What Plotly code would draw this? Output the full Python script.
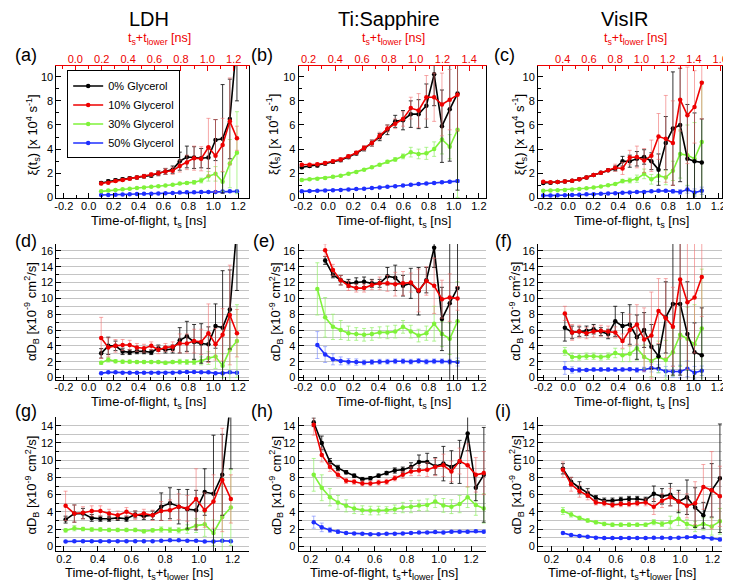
import plotly.graph_objects as go

W, H = 731, 583
FONT = "Liberation Sans, Arial, sans-serif"

SERIES = ["0% Glycerol", "10% Glycerol", "30% Glycerol", "50% Glycerol"]
LINE_COLORS = ["#000000", "#ee0000", "#7ff23a", "#1f2fff"]
ERR_COLORS = ["rgba(20,20,20,0.85)", "rgba(240,110,110,0.6)",
              "rgba(150,240,110,0.75)", "rgba(110,130,255,0.6)"]

# ---------------- column 1 : LDH ----------------
x_ad = [0.10, 0.157, 0.215, 0.272, 0.329, 0.387, 0.444, 0.502, 0.559, 0.616,
        0.674, 0.731, 0.788, 0.846, 0.903, 0.961, 1.018, 1.075, 1.133, 1.19]
a_k = [1.2, 1.33, 1.42, 1.5, 1.58, 1.65, 1.75, 1.82, 2.0, 2.15, 2.3, 3.0, 3.35, 3.3, 3.25, 3.3, 4.75, 4.85, 6.5, 13.0]
a_k_e = [0.12, 0.12, 0.12, 0.12, 0.12, 0.12, 0.15, 0.15, 0.2, 0.25, 0.3, 0.75, 0.9, 0.9, 0.8, 0.9, 1.7, 4.5, 3.3, 5.0]
a_r = [1.15, 1.22, 1.35, 1.45, 1.55, 1.65, 1.75, 1.9, 2.0, 2.15, 2.2, 2.6, 2.9, 3.25, 3.2, 4.15, 3.45, 4.35, 6.3, 4.9]
a_r_e = [0.1, 0.1, 0.1, 0.1, 0.12, 0.12, 0.15, 0.15, 0.2, 0.25, 0.3, 0.5, 0.6, 1.0, 1.0, 2.4, 3.0, 2.2, 3.6, 1.0]
a_g = [0.5, 0.57, 0.62, 0.67, 0.72, 0.78, 0.82, 0.88, 0.92, 0.98, 1.05, 1.15, 1.2, 1.25, 1.4, 1.75, 1.95, 1.3, 2.8, 3.7]
a_g_e = [0.05, 0.05, 0.05, 0.05, 0.05, 0.05, 0.05, 0.05, 0.05, 0.05, 0.05, 0.08, 0.1, 0.15, 0.2, 0.4, 0.6, 0.8, 2.0, 3.4]
a_b = [0.2, 0.2, 0.22, 0.24, 0.26, 0.28, 0.3, 0.31, 0.33, 0.35, 0.37, 0.4, 0.42, 0.43, 0.45, 0.45, 0.45, 0.48, 0.5, 0.5]
a_b_e = [0.03, 0.03, 0.03, 0.03, 0.03, 0.03, 0.03, 0.03, 0.03, 0.03, 0.03, 0.03, 0.03, 0.03, 0.04, 0.04, 0.05, 0.05, 0.05, 0.05]

d_k = [3.05, 4.0, 4.0, 3.3, 3.2, 3.3, 3.3, 3.2, 3.7, 3.5, 3.6, 4.7, 5.2, 4.5, 4.3, 4.2, 6.5, 6.3, 8.6, 19.0]
d_k_e = [0.6, 1.1, 0.6, 0.4, 0.3, 0.3, 0.3, 0.3, 0.4, 0.4, 0.5, 1.6, 1.9, 2.2, 2.5, 2.2, 2.8, 7.2, 5.0, 8.0]
d_r = [5.0, 3.8, 4.0, 4.1, 4.1, 3.8, 3.7, 4.0, 3.5, 3.8, 3.9, 4.3, 4.3, 4.6, 4.5, 5.6, 4.2, 5.4, 7.9, 5.6]
d_r_e = [2.6, 1.2, 0.8, 0.7, 0.6, 0.5, 0.5, 0.5, 0.5, 0.5, 0.6, 1.2, 1.2, 1.5, 1.6, 3.7, 2.0, 3.3, 6.3, 3.0]
d_g = [1.85, 2.25, 2.05, 2.0, 2.0, 1.95, 1.95, 1.95, 1.95, 1.85, 1.95, 2.0, 1.95, 1.95, 2.1, 2.45, 2.65, 1.5, 3.5, 4.6]
d_g_e = [0.2, 0.3, 0.2, 0.2, 0.2, 0.2, 0.2, 0.2, 0.2, 0.2, 0.2, 0.3, 0.3, 0.3, 0.5, 0.8, 1.5, 1.5, 5.0, 4.6]
d_b = [0.55, 0.65, 0.65, 0.6, 0.6, 0.6, 0.6, 0.6, 0.6, 0.6, 0.6, 0.65, 0.7, 0.7, 0.65, 0.65, 0.55, 0.55, 0.65, 0.6]
d_b_e = [0.1, 0.1, 0.1, 0.1, 0.1, 0.1, 0.1, 0.1, 0.1, 0.1, 0.1, 0.1, 0.1, 0.1, 0.1, 0.1, 0.1, 0.1, 0.1, 0.1]

x_g = [0.21, 0.262, 0.313, 0.365, 0.416, 0.468, 0.519, 0.571, 0.623, 0.674,
       0.726, 0.777, 0.829, 0.881, 0.932, 0.984, 1.035, 1.087, 1.139, 1.19]
g_k = [3.1, 3.8, 3.8, 3.3, 3.2, 3.2, 3.3, 3.2, 3.7, 3.5, 3.6, 4.6, 5.0, 4.6, 4.3, 4.2, 6.3, 6.1, 8.3, 17.0]
g_k_e = [0.4, 1.0, 0.6, 0.4, 0.3, 0.3, 0.3, 0.3, 0.4, 0.4, 0.5, 1.6, 1.8, 2.0, 2.3, 2.3, 2.7, 6.8, 4.7, 8.0]
g_r = [4.7, 3.8, 3.9, 4.1, 4.1, 3.8, 3.6, 4.0, 3.6, 3.8, 3.6, 4.1, 4.2, 4.6, 4.4, 5.5, 4.2, 5.2, 7.7, 5.5]
g_r_e = [1.7, 1.0, 0.7, 0.6, 0.6, 0.5, 0.5, 0.5, 0.5, 0.5, 0.6, 1.1, 1.2, 1.5, 1.5, 3.5, 2.0, 3.1, 6.0, 2.8]
g_g = [1.85, 2.1, 2.0, 1.95, 1.95, 1.9, 1.9, 1.9, 1.9, 1.75, 1.85, 1.95, 1.9, 1.85, 2.0, 2.4, 2.55, 1.55, 3.4, 4.5]
g_g_e = [0.2, 0.3, 0.2, 0.2, 0.2, 0.2, 0.2, 0.2, 0.2, 0.2, 0.2, 0.3, 0.3, 0.3, 0.5, 0.8, 1.4, 1.5, 4.5, 4.4]
g_b = [0.55, 0.6, 0.6, 0.6, 0.6, 0.6, 0.6, 0.6, 0.6, 0.6, 0.6, 0.65, 0.7, 0.7, 0.65, 0.65, 0.55, 0.55, 0.65, 0.6]
g_b_e = [0.1, 0.1, 0.1, 0.1, 0.1, 0.1, 0.1, 0.1, 0.1, 0.1, 0.1, 0.1, 0.1, 0.1, 0.1, 0.1, 0.1, 0.1, 0.1, 0.1]

# ---------------- column 2 : Ti:Sapphire ----------------
x_b = [-0.21, -0.148, -0.086, -0.024, 0.038, 0.1, 0.162, 0.224, 0.286, 0.348, 0.41,
       0.472, 0.534, 0.596, 0.658, 0.72, 0.782, 0.844, 0.906, 0.968, 1.03]
b_k = [2.5, 2.6, 2.65, 2.8, 2.95, 3.1, 3.35, 3.65, 4.05, 4.5, 5.0, 5.6, 6.3, 6.4, 6.9, 6.9, 7.6, 10.2, 5.9, 7.3, 8.6]
b_k_e = [0.12, 0.12, 0.12, 0.12, 0.12, 0.15, 0.15, 0.15, 0.2, 0.25, 0.3, 0.4, 0.5, 0.8, 1.1, 1.2, 1.8, 2.6, 3.0, 4.3, 8.0]
b_r = [2.7, 2.7, 2.75, 2.85, 3.0, 3.15, 3.4, 3.7, 4.1, 4.5, 5.1, 5.7, 6.1, 6.5, 7.4, 7.2, 8.3, 8.3, 7.7, 8.1, 8.5]
b_r_e = [0.12, 0.12, 0.12, 0.12, 0.12, 0.15, 0.15, 0.15, 0.2, 0.25, 0.3, 0.3, 0.4, 0.6, 0.9, 1.4, 1.8, 2.0, 2.6, 2.5, 3.0]
b_g = [1.45, 1.5, 1.55, 1.6, 1.7, 1.8, 1.95, 2.1, 2.3, 2.5, 2.7, 2.95, 3.15, 3.4, 3.75, 3.6, 3.65, 4.0, 4.8, 4.2, 5.6]
b_g_e = [0.08, 0.08, 0.08, 0.08, 0.08, 0.08, 0.08, 0.08, 0.08, 0.08, 0.1, 0.12, 0.15, 0.2, 0.4, 0.4, 0.5, 0.6, 1.2, 1.0, 5.6]
b_b = [0.5, 0.52, 0.55, 0.58, 0.6, 0.62, 0.65, 0.7, 0.72, 0.78, 0.82, 0.88, 0.92, 0.98, 1.05, 1.1, 1.15, 1.2, 1.25, 1.3, 1.35]
b_b_e = [0.05, 0.05, 0.05, 0.05, 0.05, 0.05, 0.05, 0.05, 0.05, 0.05, 0.05, 0.05, 0.05, 0.05, 0.06, 0.06, 0.07, 0.08, 0.08, 0.1, 0.1]

x_e_gb = [-0.086, -0.024, 0.038, 0.1, 0.162, 0.224, 0.286, 0.348, 0.41, 0.472,
          0.534, 0.596, 0.658, 0.72, 0.782, 0.844, 0.906, 0.968, 1.03]
x_e_kr = [-0.024, 0.038, 0.1, 0.162, 0.224, 0.286, 0.348, 0.41, 0.472,
          0.534, 0.596, 0.658, 0.72, 0.782, 0.844, 0.906, 0.968, 1.03]
e_k = [14.8, 13.0, 12.3, 11.9, 12.0, 12.1, 11.9, 11.9, 12.8, 12.6, 11.6, 11.9, 10.9, 12.3, 16.4, 7.4, 9.4, 11.3]
e_k_e = [0.5, 0.4, 0.6, 0.5, 0.6, 0.6, 0.5, 0.5, 1.1, 1.6, 1.3, 1.9, 3.0, 1.6, 2.5, 4.0, 10.0, 12.0]
e_r = [16.1, 13.6, 12.3, 11.6, 11.3, 11.3, 11.7, 11.9, 11.9, 11.8, 11.9, 12.0, 11.0, 12.2, 11.6, 9.9, 10.1, 10.0]
e_r_e = [0.8, 0.7, 0.6, 0.6, 0.5, 0.5, 0.6, 0.8, 1.0, 1.5, 1.5, 1.2, 2.7, 1.8, 3.5, 2.4, 3.0, 1.5]
e_g = [11.2, 7.6, 6.4, 6.0, 5.6, 5.5, 5.4, 5.5, 5.7, 5.7, 5.8, 6.4, 5.8, 5.3, 5.6, 6.8, 5.5, 4.9, 7.1]
e_g_e = [3.3, 2.5, 1.6, 1.2, 0.9, 0.8, 0.8, 0.8, 0.7, 0.8, 0.8, 0.8, 0.8, 0.8, 0.9, 2.2, 1.6, 2.0, 5.0]
e_b = [4.1, 2.9, 2.3, 2.1, 2.0, 1.95, 1.9, 1.95, 2.0, 2.0, 2.05, 2.05, 2.0, 2.1, 2.0, 2.05, 2.05, 2.0, 1.95]
e_b_e = [1.7, 1.0, 0.7, 0.5, 0.4, 0.4, 0.3, 0.3, 0.3, 0.3, 0.3, 0.3, 0.3, 0.3, 0.3, 0.3, 0.3, 0.3, 0.5]

x_h = [0.22, 0.27, 0.321, 0.371, 0.422, 0.472, 0.523, 0.573, 0.624, 0.674, 0.725,
       0.775, 0.826, 0.876, 0.927, 0.977, 1.028, 1.078, 1.129, 1.179, 1.23, 1.28]
h_k = [14.4, 12.0, 9.8, 9.1, 8.6, 8.2, 7.8, 7.9, 8.2, 8.5, 8.8, 8.9, 9.2, 9.8, 9.8, 9.3, 9.6, 9.2, 9.8, 13.1, 6.8, 8.3]
h_k_e = [0.5, 0.8, 0.4, 0.3, 0.2, 0.2, 0.2, 0.2, 0.2, 0.2, 0.3, 0.3, 0.5, 0.8, 1.0, 1.0, 2.0, 1.9, 2.5, 2.0, 1.5, 5.5]
h_r = [14.1, 10.6, 9.2, 8.3, 7.6, 7.5, 7.3, 7.3, 7.4, 7.5, 7.9, 8.3, 8.7, 8.8, 8.9, 9.2, 9.4, 8.7, 9.9, 9.4, 8.3, 8.5]
h_r_e = [1.2, 0.8, 0.5, 0.4, 0.3, 0.3, 0.3, 0.3, 0.3, 0.3, 0.3, 0.4, 0.5, 0.6, 0.8, 1.0, 1.3, 1.2, 1.5, 2.5, 2.0, 2.5]
h_g = [8.3, 6.8, 5.7, 5.1, 4.7, 4.4, 4.2, 4.15, 4.15, 4.2, 4.3, 4.5, 4.6, 4.75, 4.8, 5.2, 4.75, 4.6, 4.9, 5.7, 4.8, 4.4]
h_g_e = [1.9, 1.5, 1.0, 0.8, 0.7, 0.6, 0.5, 0.5, 0.5, 0.4, 0.5, 0.6, 0.7, 0.6, 0.7, 0.7, 0.8, 0.8, 1.0, 1.2, 1.2, 1.7]
h_b = [2.8, 2.2, 1.9, 1.7, 1.55, 1.5, 1.45, 1.4, 1.4, 1.45, 1.45, 1.5, 1.55, 1.6, 1.6, 1.65, 1.6, 1.7, 1.7, 1.7, 1.75, 1.7]
h_b_e = [0.7, 0.5, 0.3, 0.2, 0.1, 0.1, 0.1, 0.1, 0.1, 0.1, 0.1, 0.1, 0.1, 0.1, 0.1, 0.1, 0.15, 0.15, 0.15, 0.15, 0.15, 0.15]

# ---------------- column 3 : VisIR ----------------
x_c = [-0.2, -0.142, -0.085, -0.027, 0.031, 0.088, 0.146, 0.203, 0.261, 0.319, 0.376, 0.434,
       0.492, 0.549, 0.607, 0.665, 0.722, 0.78, 0.837, 0.895, 0.953, 1.01, 1.068]
c_k = [1.2, 1.22, 1.28, 1.32, 1.38, 1.5, 1.65, 1.85, 2.05, 2.25, 2.4, 3.0, 3.0, 3.2, 3.35, 3.0, 2.3, 4.5, 5.7, 6.0, 3.2, 3.0, 2.9]
c_k_e = [0.1, 0.1, 0.1, 0.1, 0.1, 0.1, 0.1, 0.1, 0.1, 0.1, 0.2, 0.4, 0.5, 0.6, 0.6, 0.7, 1.3, 2.2, 4.7, 4.7, 4.5, 4.0, 3.6]
c_r = [1.3, 1.25, 1.28, 1.32, 1.38, 1.5, 1.65, 1.85, 2.05, 2.25, 2.45, 2.4, 3.3, 3.35, 3.05, 3.45, 5.05, 4.85, 4.5, 8.1, 6.8, 7.5, 9.5]
c_r_e = [0.1, 0.1, 0.1, 0.1, 0.1, 0.1, 0.1, 0.1, 0.1, 0.1, 0.3, 0.5, 0.6, 0.9, 1.0, 1.3, 1.9, 3.6, 3.5, 2.6, 4.0, 3.0, 3.0]
c_g = [0.55, 0.58, 0.6, 0.62, 0.66, 0.7, 0.76, 0.82, 0.9, 1.0, 1.1, 1.35, 1.4, 1.55, 1.95, 1.5, 1.8, 1.65, 2.2, 3.6, 3.5, 3.2, 4.6]
c_g_e = [0.05, 0.05, 0.05, 0.05, 0.05, 0.05, 0.05, 0.05, 0.05, 0.05, 0.05, 0.15, 0.2, 0.3, 0.4, 0.4, 0.5, 0.6, 0.8, 2.0, 2.5, 3.0, 5.0]
c_b = [0.15, 0.15, 0.17, 0.18, 0.2, 0.22, 0.25, 0.27, 0.3, 0.32, 0.35, 0.38, 0.4, 0.45, 0.45, 0.5, 0.55, 0.55, 0.5, 0.45, 0.65, 0.4, 0.55]
c_b_e = [0.03, 0.03, 0.03, 0.03, 0.03, 0.03, 0.03, 0.03, 0.03, 0.03, 0.03, 0.03, 0.03, 0.05, 0.05, 0.08, 0.1, 0.1, 0.15, 0.2, 0.3, 0.3, 0.3]

x_f = [-0.027, 0.031, 0.088, 0.146, 0.203, 0.261, 0.319, 0.376, 0.434, 0.492,
       0.549, 0.607, 0.665, 0.722, 0.78, 0.837, 0.895, 0.953, 1.01, 1.068]
f_k = [6.3, 5.7, 5.8, 5.9, 6.1, 5.8, 5.5, 7.1, 6.5, 6.7, 5.1, 6.0, 3.9, 2.7, 7.6, 9.3, 9.3, 5.5, 3.2, 2.8]
f_k_e = [1.7, 0.8, 0.6, 0.6, 0.6, 0.5, 0.6, 1.9, 1.7, 2.5, 2.8, 2.2, 2.8, 1.5, 4.5, 9.0, 9.0, 6.6, 3.7, 6.0]
f_r = [8.1, 5.7, 5.8, 5.6, 5.8, 5.9, 5.8, 5.7, 4.6, 6.0, 6.7, 4.8, 5.3, 8.4, 7.5, 6.4, 12.4, 9.5, 10.1, 12.7]
f_r_e = [0.9, 1.0, 0.8, 0.7, 0.7, 0.7, 0.7, 0.7, 0.9, 2.0, 2.5, 4.0, 5.5, 4.1, 5.0, 5.0, 7.5, 8.5, 7.0, 5.0]
f_g = [3.3, 2.6, 2.6, 2.7, 2.7, 2.6, 2.7, 3.1, 2.8, 3.0, 3.7, 2.6, 2.1, 2.6, 2.2, 3.2, 5.4, 4.9, 4.2, 6.2]
f_g_e = [0.5, 0.5, 0.4, 0.4, 0.4, 0.4, 0.4, 0.6, 0.8, 1.0, 1.5, 1.5, 2.0, 2.0, 2.5, 3.0, 4.0, 4.0, 5.0, 7.5]
f_b = [1.2, 0.95, 0.95, 0.95, 1.0, 1.0, 1.0, 1.0, 1.0, 1.05, 0.95, 1.0, 1.2, 1.1, 0.8, 0.75, 0.75, 1.1, 0.6, 0.85]
f_b_e = [0.8, 0.4, 0.3, 0.2, 0.2, 0.2, 0.2, 0.2, 0.2, 0.2, 0.3, 0.3, 0.5, 0.5, 0.6, 0.7, 0.8, 1.0, 0.8, 0.6]

x_i = [0.271, 0.322, 0.374, 0.425, 0.476, 0.528, 0.579, 0.631, 0.682, 0.733,
       0.785, 0.836, 0.887, 0.939, 0.99, 1.042, 1.093, 1.144, 1.196, 1.247]
i_k = [9.0, 7.5, 6.8, 6.2, 5.6, 5.3, 5.3, 5.4, 5.5, 5.5, 5.4, 6.1, 5.8, 6.0, 5.2, 5.7, 4.5, 3.6, 6.5, 7.9]
i_k_e = [0.6, 0.5, 0.7, 0.5, 0.3, 0.3, 0.3, 0.3, 0.3, 0.3, 0.3, 0.9, 0.9, 1.3, 1.3, 2.0, 2.3, 1.5, 3.1, 6.3]
i_r = [8.9, 7.2, 6.4, 5.9, 5.1, 5.0, 4.8, 4.9, 4.9, 5.0, 5.1, 4.6, 5.3, 5.7, 5.2, 4.7, 5.0, 6.9, 6.5, 5.8]
i_r_e = [0.9, 0.8, 0.7, 0.5, 0.3, 0.3, 0.3, 0.3, 0.3, 0.3, 0.4, 0.9, 0.8, 1.0, 1.0, 1.4, 2.5, 2.6, 4.5, 3.5]
i_g = [4.1, 3.7, 3.3, 3.0, 2.8, 2.6, 2.5, 2.5, 2.5, 2.5, 2.5, 2.8, 2.6, 2.8, 3.2, 2.6, 2.3, 2.6, 2.3, 2.9]
i_g_e = [0.4, 0.3, 0.2, 0.2, 0.2, 0.2, 0.2, 0.2, 0.2, 0.2, 0.2, 0.3, 0.3, 0.7, 0.8, 0.5, 0.6, 0.7, 1.0, 1.5]
i_b = [1.55, 1.3, 1.2, 1.1, 1.0, 0.95, 0.95, 0.95, 0.95, 0.95, 0.95, 1.0, 1.0, 0.95, 1.0, 1.05, 1.1, 1.05, 0.9, 0.8]
i_b_e = [0.1, 0.1, 0.1, 0.1, 0.1, 0.1, 0.1, 0.1, 0.1, 0.1, 0.1, 0.1, 0.1, 0.1, 0.1, 0.1, 0.15, 0.15, 0.15, 0.15]

# tick labels
ts_ticks = [-0.2, 0.0, 0.2, 0.4, 0.6, 0.8, 1.0, 1.2]
tl_ticks = [0.2, 0.4, 0.6, 0.8, 1.0, 1.2]
top_ticks = [[0.0, 0.2, 0.4, 0.6, 0.8, 1.0, 1.2],
             [0.2, 0.4, 0.6, 0.8, 1.0, 1.2, 1.4],
             [0.4, 0.6, 0.8, 1.0, 1.2, 1.4, 1.6]]
y_ticks = [[0, 2, 4, 6, 8, 10], [0, 2, 4, 6, 8, 10, 12, 14, 16], [0, 2, 4, 6, 8, 10, 12, 14]]

col_titles = ["LDH", "Ti:Sapphire", "VisIR"]
panel_tags = ["(a)", "(b)", "(c)", "(d)", "(e)", "(f)", "(g)", "(h)", "(i)"]

# ---------------- layout geometry (pixels) ----------------
col_px = [(44, 240), (290, 480), (533, 720)]
row_px = [(58, 192), (238, 375), (413, 548)]
x_ranges = [[[-0.26, 1.29], [-0.235, 1.255], [-0.242, 1.231]],
            [[-0.26, 1.29], [-0.235, 1.255], [-0.242, 1.231]],
            [[0.155, 1.30], [0.126, 1.292], [0.116, 1.261]]]
top_ranges = [[-0.144, 1.319], [0.126, 1.524], [0.212, 1.615]]
y_ranges = [[-0.08, 10.93], [-0.29, 16.88], [-0.58, 14.96]]


def xdom(c):
    return [col_px[c][0] / W, col_px[c][1] / W]


def ydom(r):
    return [1 - row_px[r][1] / H, 1 - row_px[r][0] / H]


panels = [
    ([x_ad] * 4, [a_k, a_r, a_g, a_b], [a_k_e, a_r_e, a_g_e, a_b_e]),
    ([x_b] * 4, [b_k, b_r, b_g, b_b], [b_k_e, b_r_e, b_g_e, b_b_e]),
    ([x_c] * 4, [c_k, c_r, c_g, c_b], [c_k_e, c_r_e, c_g_e, c_b_e]),
    ([x_ad] * 4, [d_k, d_r, d_g, d_b], [d_k_e, d_r_e, d_g_e, d_b_e]),
    ([x_e_kr, x_e_kr, x_e_gb, x_e_gb], [e_k, e_r, e_g, e_b], [e_k_e, e_r_e, e_g_e, e_b_e]),
    ([x_f] * 4, [f_k, f_r, f_g, f_b], [f_k_e, f_r_e, f_g_e, f_b_e]),
    ([x_g] * 4, [g_k, g_r, g_g, g_b], [g_k_e, g_r_e, g_g_e, g_b_e]),
    ([x_h] * 4, [h_k, h_r, h_g, h_b], [h_k_e, h_r_e, h_g_e, h_b_e]),
    ([x_i] * 4, [i_k, i_r, i_g, i_b], [i_k_e, i_r_e, i_g_e, i_b_e]),
]

fig = go.Figure()
layout = {}
axis_font = dict(family=FONT, size=11, color="black")

for k, (xs, ys, es) in enumerate(panels):
    r, c = divmod(k, 3)
    n = k + 1
    xa = "x" if n == 1 else f"x{n}"
    ya = "y" if n == 1 else f"y{n}"
    # draw order: blue, green, black, red
    for s in [3, 2, 0, 1]:
        fig.add_trace(go.Scatter(
            x=xs[s], y=ys[s], xaxis=xa, yaxis=ya,
            mode="lines+markers", name=SERIES[s],
            legendrank=s + 1, showlegend=(k == 0),
            line=dict(color=LINE_COLORS[s], width=1.6),
            marker=dict(color=LINE_COLORS[s], size=4.5, symbol="circle"),
            error_y=dict(type="data", array=es[s], color=ERR_COLORS[s],
                         thickness=1, width=2),
            hoverinfo="skip"))
    xt = ts_ticks if r < 2 else tl_ticks
    xkey = "xaxis" if n == 1 else f"xaxis{n}"
    ykey = "yaxis" if n == 1 else f"yaxis{n}"
    layout[xkey] = dict(
        domain=xdom(c), anchor=ya, range=x_ranges[r][c],
        tickmode="array", tickvals=xt, ticktext=[f"{v:.1f}" for v in xt],
        ticks="inside", ticklen=5, tickwidth=1, tickcolor="black",
        ticklabelstandoff=-3,
        minor=dict(ticks="inside", ticklen=3, tickmode="linear", tick0=0, dtick=0.1,
                   tickcolor="black"),
        showline=True, linecolor="black", linewidth=1, mirror=False,
        showgrid=False, zeroline=False, tickfont=axis_font)
    grid = r > 0
    layout[ykey] = dict(
        domain=ydom(r), anchor=xa, range=y_ranges[r],
        tickmode="array", tickvals=y_ticks[r], ticktext=[str(v) for v in y_ticks[r]],
        ticks="inside", ticklen=5, tickwidth=1, tickcolor="black",
        minor=dict(ticks="inside", ticklen=3, tickmode="linear", tick0=0, dtick=1,
                   tickcolor="black", showgrid=grid, gridcolor="#c4c4c4", gridwidth=1),
        showline=True, linecolor="black", linewidth=1, mirror=(r == 0),
        showgrid=grid, gridcolor="#c4c4c4", gridwidth=1,
        zeroline=False, tickfont=axis_font)

# top (red) axes of the first row
for c in range(3):
    n = 10 + c
    base = "x" if c == 0 else f"x{c + 1}"
    ya = "y" if c == 0 else f"y{c + 1}"
    fig.add_trace(go.Scatter(x=[top_ranges[c][0]], y=[-50], xaxis=f"x{n}", yaxis=ya,
                             mode="markers", marker=dict(opacity=0), showlegend=False,
                             hoverinfo="skip"))
    tt = top_ticks[c]
    layout[f"xaxis{n}"] = dict(
        overlaying=base, side="top", anchor=ya, range=top_ranges[c],
        tickmode="array", tickvals=tt, ticktext=[f"{v:.1f}" for v in tt],
        ticks="inside", ticklen=5, tickcolor="#ee0000",
        ticklabelstandoff=-3,
        minor=dict(ticks="inside", ticklen=3, tickmode="linear", tick0=0, dtick=0.1,
                   tickcolor="#ee0000"),
        showline=True, linecolor="#ee0000", linewidth=1,
        showgrid=False, zeroline=False,
        tickfont=dict(family=FONT, size=11, color="#ee0000"))

ann = []


def add_text(text, x, y, size, color="black", angle=0):
    ann.append(dict(text=text, x=x / W, y=1 - y / H, xref="paper", yref="paper",
                    showarrow=False, xanchor="center", yanchor="middle",
                    textangle=angle, font=dict(family=FONT, size=size, color=color)))


# column titles
for c, (t, cx) in enumerate(zip(col_titles, [138, 382, 621])):
    add_text(t, cx, 11, 20)
# top axis titles
for cx in [149, 386, 632]:
    add_text("t<sub>s</sub>+t<sub>lower</sub> [ns]", cx, 31, 12.5, "#ee0000")
# panel tags
tag_pos = [(13, 47), (253, 47), (499, 47), (13, 235), (255, 235), (498, 235),
           (13, 406), (253, 406), (497, 406)]
for t, (px, py) in zip(panel_tags, tag_pos):
    add_text(t, px, py, 18)
# x-axis titles
for cx in [138, 386, 628]:
    add_text("Time-of-flight, t<sub>s</sub> [ns]", cx, 215, 13)
    add_text("Time-of-flight, t<sub>s</sub> [ns]", cx, 398, 13)
for cx in [128, 377, 618]:
    add_text("Time-of-flight, t<sub>s</sub>+t<sub>lower</sub> [ns]", cx, 570, 13)
# y-axis titles
for cx in [20, 264, 514]:
    add_text("ξ(t<sub>s</sub>) [x 10<sup>4</sup> s<sup>-1</sup>]", cx, 128, 13, angle=-90)
for cx in [19, 267, 511]:
    add_text("αD<sub>B</sub> [x10<sup>-9</sup> cm<sup>2</sup>/s]", cx, 306, 13, angle=-90)
    add_text("αD<sub>B</sub> [x10<sup>-9</sup> cm<sup>2</sup>/s]", cx, 481, 13, angle=-90)

fig.update_layout(
    width=W, height=H, margin=dict(l=0, r=0, t=0, b=0),
    paper_bgcolor="white", plot_bgcolor="white",
    font=dict(family=FONT, size=11, color="black"),
    annotations=ann,
    legend=dict(x=55 / W, y=1 - 63 / H, xanchor="left", yanchor="top",
                bgcolor="white", bordercolor="black", borderwidth=1,
                font=dict(family=FONT, size=11), itemwidth=30,
                tracegroupgap=0),
    showlegend=True,
    **layout)

fig.write_html("out.html")
